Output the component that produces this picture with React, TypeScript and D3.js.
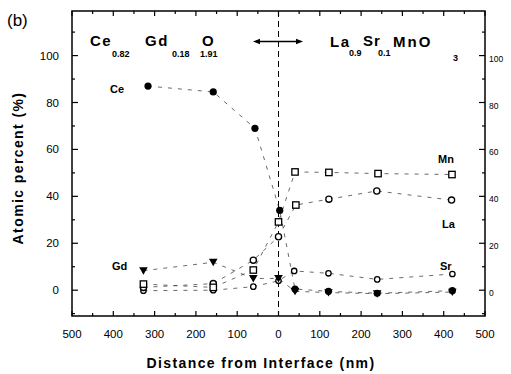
import React from "react";
import * as d3 from "d3";

// Distance from the CGO/LSM interface (nm, negative = ceria side) and atomic percent
const ceX = [-316, -158, -57, 3, 40, 121, 239, 421];
const ceY = [87, 84.5, 69, 34, 0.5, -0.5, -1.3, -0.2];

const gdX = [-327, -158, -61, 0, 40, 121, 239, 421];
const gdY = [8.3, 11.9, 5, 5, -0.5, -1, -1.5, -0.8];

const mnX = [-327, -158, -61, 0, 40, 122, 241, 420];
const mnY = [2.6, 1.2, 8.6, 29.1, 50.4, 50.2, 49.7, 49.3];

const laX = [-327, -158, -61, 0, 42, 122, 238, 419];
const laY = [1.2, 2.8, 12.8, 22.8, 36.3, 38.8, 42.3, 38.4];
const laShapes = ["circle", "circle", "circle", "circle", "square", "circle", "circle", "circle"];

const srX = [-327, -158, -61, 0, 38, 121, 239, 421];
const srY = [-0.2, 0, 1.5, 4, 8.2, 7.2, 4.6, 6.9];

const xTicks = [-500, -400, -300, -200, -100, 0, 100, 200, 300, 400, 500];
const yTicks = [0, 20, 40, 60, 80, 100];

const W = 511;
const H = 374;
const FONT = "'Liberation Sans', Arial, sans-serif";

type Shape = "fcircle" | "circle" | "square" | "tri" | "scircle";

function Marker({ shape, cx, cy }: { shape: Shape; cx: number; cy: number }) {
  switch (shape) {
    case "fcircle":
      return <circle cx={cx} cy={cy} r={3.6} fill="#000" />;
    case "circle":
      return <circle cx={cx} cy={cy} r={3.1} fill="#fff" stroke="#000" strokeWidth={1.3} />;
    case "scircle":
      return <circle cx={cx} cy={cy} r={2.7} fill="#fff" stroke="#000" strokeWidth={1.3} />;
    case "square":
      return <rect x={cx - 3.2} y={cy - 3.2} width={6.4} height={6.4} fill="#fff" stroke="#000" strokeWidth={1.3} />;
    case "tri":
      return <path d={`M${cx - 4.3},${cy - 3.4}L${cx + 4.3},${cy - 3.4}L${cx},${cy + 4}Z`} fill="#000" />;
  }
}

export default function App() {
  const x = d3.scaleLinear().domain([-500, 500]).range([72, 485]);
  const y = d3.scaleLinear().domain([-11, 119]).range([316, 11]);
  const [x0, x1] = x.range();
  const [yb, yt] = y.range();

  const line = d3
    .line<[number, number]>()
    .x((d) => x(d[0]))
    .y((d) => y(d[1]));

  const series = [
    { xs: srX, ys: srY, shapes: srX.map(() => "scircle" as Shape) },
    { xs: laX, ys: laY, shapes: laShapes as Shape[] },
    { xs: mnX, ys: mnY, shapes: mnX.map(() => "square" as Shape) },
    { xs: gdX, ys: gdY, shapes: gdX.map(() => "tri" as Shape) },
    { xs: ceX, ys: ceY, shapes: ceX.map(() => "fcircle" as Shape) },
  ];

  const xMinor = d3.range(-500, 501, 50);
  const yMinor = d3.range(-10, 111, 10);

  const tickFont = { fontFamily: FONT, fontSize: 11.5, fill: "#000" };
  const bold = { fontFamily: FONT, fontWeight: 700, fill: "#000" } as const;

  return (
    <svg width={W} height={H} style={{ position: "absolute", left: 0, top: 0, background: "#fff" }}>
      <rect width={W} height={H} fill="#fff" />

      {/* connecting lines */}
      {series.map((s, i) => (
        <path
          key={"l" + i}
          d={line(s.xs.map((v, j) => [v, s.ys[j]] as [number, number])) || ""}
          fill="none"
          stroke="#444"
          strokeWidth={0.8}
          strokeDasharray="4,6"
        />
      ))}

      {/* interface line */}
      <line x1={x(0)} x2={x(0)} y1={yt} y2={yb} stroke="#000" strokeWidth={1} strokeDasharray="6,4" />

      {/* markers */}
      {series.map((s, i) =>
        s.xs.map((v, j) => <Marker key={`m${i}-${j}`} shape={s.shapes[j]} cx={x(v)} cy={y(s.ys[j])} />)
      )}

      {/* frame */}
      <rect x={x0} y={yt} width={x1 - x0} height={yb - yt} fill="none" stroke="#000" strokeWidth={1.5} />

      {/* x ticks bottom and top */}
      {xMinor.map((v) => {
        const major = v % 100 === 0;
        const len = major ? 5 : 3;
        return (
          <g key={"xt" + v}>
            <line x1={x(v)} x2={x(v)} y1={yb} y2={yb - len} stroke="#000" strokeWidth={1.2} />
            <line x1={x(v)} x2={x(v)} y1={yt} y2={yt + len} stroke="#000" strokeWidth={1.2} />
          </g>
        );
      })}
      {xTicks.map((v) => (
        <text key={"xl" + v} x={x(v)} y={338} textAnchor="middle" {...tickFont}>
          {Math.abs(v)}
        </text>
      ))}

      {/* y ticks left and right */}
      {yMinor.map((v) => {
        const major = v % 20 === 0;
        const len = major ? 6 : 3;
        return (
          <g key={"yt" + v}>
            <line x1={x0} x2={x0 + len} y1={y(v)} y2={y(v)} stroke="#000" strokeWidth={1.2} />
            <line x1={x1} x2={x1 - len} y1={y(v)} y2={y(v)} stroke="#000" strokeWidth={1.2} />
          </g>
        );
      })}
      {yTicks.map((v) => (
        <text key={"yl" + v} x={59} y={y(v) + 4} textAnchor="end" {...tickFont}>
          {v}
        </text>
      ))}
      {yTicks.map((v) => (
        <text key={"yr" + v} x={489} y={y(v) + 6} fontFamily={FONT} fontSize={8.5} fill="#000">
          {v}
        </text>
      ))}

      {/* axis titles */}
      <text
        transform={`translate(23,${168}) rotate(-90)`}
        textAnchor="middle"
        fontSize={14}
        letterSpacing={1.4}
        {...bold}
      >
        Atomic percent (%)
      </text>
      <text x={261} y={368} textAnchor="middle" fontSize={14} letterSpacing={1.4} {...bold}>
        Distance from Interface (nm)
      </text>

      <text x={7} y={26} fontFamily={FONT} fontSize={17} fill="#000">
        (b)
      </text>

      {/* compositions of the two layers */}
      <g {...bold}>
        <text x={90} y={46} fontSize={15} letterSpacing={1.5}>Ce</text>
        <text x={112} y={57} fontSize={9}>0.82</text>
        <text x={145} y={46} fontSize={15} letterSpacing={1.5}>Gd</text>
        <text x={172} y={57} fontSize={9}>0.18</text>
        <text x={202} y={46} fontSize={15}>O</text>
        <text x={200} y={57} fontSize={9}>1.91</text>

        <text x={330} y={47} fontSize={15} letterSpacing={1.5}>La</text>
        <text x={349} y={56} fontSize={9}>0.9</text>
        <text x={363} y={46} fontSize={15} letterSpacing={1}>Sr</text>
        <text x={378} y={56} fontSize={9}>0.1</text>
        <text x={393} y={47} fontSize={15} letterSpacing={2}>MnO</text>
        <text x={453} y={61} fontSize={9}>3</text>
      </g>

      {/* double arrow across the interface */}
      <line x1={258} x2={298} y1={41.5} y2={41.5} stroke="#000" strokeWidth={1.3} />
      <path d="M253,41.5L260,38.8L260,44.2Z" fill="#000" />
      <path d="M303,41.5L296,38.8L296,44.2Z" fill="#000" />

      {/* element labels */}
      <g {...bold} fontSize={11}>
        <text x={110} y={93}>Ce</text>
        <text x={112} y={270}>Gd</text>
        <text x={438} y={163}>Mn</text>
        <text x={442} y={228}>La</text>
        <text x={440} y={270}>Sr</text>
      </g>
    </svg>
  );
}
